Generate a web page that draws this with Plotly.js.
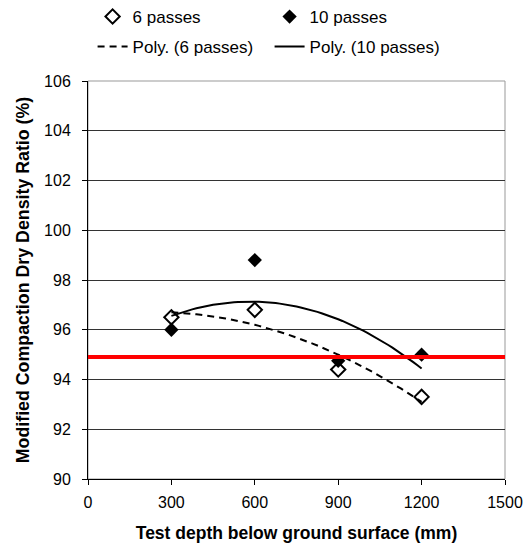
<!DOCTYPE html>
<html><head><meta charset="utf-8">
<script src="https://cdn.plot.ly/plotly-3.0.1.min.js"></script>
<style>body{margin:0;background:#fff}</style>
</head><body><div id="chart" style="width:526px;height:544px"></div>
<script>
// ---- data ----
const depths = [300, 600, 900, 1200];
const passes6 = [96.5, 96.8, 94.4, 93.3];
const passes10 = [96.0, 98.8, 94.75, 95.0];
const xTickVals = [0, 300, 600, 900, 1200, 1500];
const yTickVals = [90, 92, 94, 96, 98, 100, 102, 104, 106];
const referenceRatio = 94.9;
const seriesNames = ['6 passes', '10 passes', 'Poly. (6 passes)', 'Poly. (10 passes)'];

// least-squares 2nd-order polynomial (like an Excel "Poly." trendline)
function quadFit(xs, ys) {
  const n = xs.length;
  let s = [0,0,0,0,0], t = [0,0,0];
  for (let i = 0; i < n; i++) {
    const x = xs[i], y = ys[i];
    for (let k = 0; k <= 4; k++) s[k] += Math.pow(x, k);
    for (let k = 0; k <= 2; k++) t[k] += y * Math.pow(x, k);
  }
  const A = [[s[0], s[1], s[2], t[0]], [s[1], s[2], s[3], t[1]], [s[2], s[3], s[4], t[2]]];
  for (let i = 0; i < 3; i++) {
    for (let j = i + 1; j < 3; j++) {
      const f = A[j][i] / A[i][i];
      for (let k = i; k < 4; k++) A[j][k] -= f * A[i][k];
    }
  }
  const c = [0,0,0];
  for (let i = 2; i >= 0; i--) {
    let v = A[i][3];
    for (let k = i + 1; k < 3; k++) v -= A[i][k] * c[k];
    c[i] = v / A[i][i];
  }
  return x => c[0] + c[1] * x + c[2] * x * x;
}
function trend(xs, ys) {
  const f = quadFit(xs, ys);
  const x0 = Math.min(...xs), x1 = Math.max(...xs);
  const px = [], py = [];
  for (let i = 0; i <= 60; i++) { const x = x0 + (x1 - x0) * i / 60; px.push(x); py.push(f(x)); }
  return {px, py};
}
const t6 = trend(depths, passes6);
const t10 = trend(depths, passes10);

const FONT = 'Liberation Sans, Arial, sans-serif';
const data = [
  {x: depths, y: passes6, name: seriesNames[0], mode: 'markers', type: 'scatter', legend: 'legend',
   marker: {symbol: 'diamond-open', size: 11, color: '#000', line: {width: 2, color: '#000'}}},
  {x: depths, y: passes10, name: seriesNames[1], mode: 'markers', type: 'scatter', legend: 'legend',
   marker: {symbol: 'diamond', size: 11, color: '#000'}},
  {x: t6.px, y: t6.py, name: seriesNames[2], mode: 'lines', type: 'scatter', legend: 'legend2',
   line: {color: '#000', width: 2, dash: '7px,5px'}},
  {x: t10.px, y: t10.py, name: seriesNames[3], mode: 'lines', type: 'scatter', legend: 'legend2',
   line: {color: '#000', width: 2}}
];

const PLOT_TOP = 81, PLOT_H = 398;
const legendCommon = {orientation: 'h', xref: 'paper', yref: 'paper', xanchor: 'left', yanchor: 'middle',
  x: -0.001, indentation: 5,
  font: {family: FONT, size: 17, color: '#000'}, bgcolor: 'rgba(0,0,0,0)', entrywidth: 127, itemclick: false};

const layout = {
  width: 526, height: 544,
  margin: {l: 88, r: 21, t: 81, b: 65, autoexpand: false},
  paper_bgcolor: '#fff', plot_bgcolor: '#fff',
  font: {family: FONT, size: 16, color: '#000'},
  showlegend: true,
  legend: Object.assign({}, legendCommon, {y: 1 + (PLOT_TOP - 17) / PLOT_H}),
  legend2: Object.assign({}, legendCommon, {y: 1 + (PLOT_TOP - 47) / PLOT_H}),
  xaxis: {
    range: [0, 1500], tickvals: xTickVals, ticktext: xTickVals.map(String),
    showgrid: false, zeroline: false, showline: true, linecolor: '#000', linewidth: 1,
    ticks: 'outside', ticklen: 5, tickcolor: '#000', ticklabelstandoff: 4,
    tickfont: {family: FONT, size: 16, color: '#000'},
    title: {text: 'Test depth below ground surface (mm)', font: {family: FONT, size: 17.5, color: '#000', weight: 'bold'}, standoff: 16}
  },
  yaxis: {
    range: [90, 106], tickvals: yTickVals, ticktext: yTickVals.map(String),
    showgrid: true, gridcolor: '#333', gridwidth: 1, zeroline: false,
    showline: true, linecolor: '#000', linewidth: 1,
    ticks: 'outside', ticklen: 5, tickcolor: '#000', ticklabelstandoff: 8,
    tickfont: {family: FONT, size: 16, color: '#000'},
    title: {text: 'Modified Compaction Dry Density Ratio (%)', font: {family: FONT, size: 17.8, color: '#000', weight: 'bold'}, standoff: 9}
  },
  shapes: [
    {type: 'rect', xref: 'paper', yref: 'paper', x0: 0, x1: 1, y0: 0, y1: 1, line: {color: '#999', width: 1}, layer: 'below'},
    {type: 'line', xref: 'paper', yref: 'y', x0: 0, x1: 1, y0: referenceRatio, y1: referenceRatio, line: {color: '#ff0000', width: 4}, layer: 'above'}
  ]
};

Plotly.newPlot('chart', data, layout, {displayModeBar: false, staticPlot: true});
</script>
</body></html>
